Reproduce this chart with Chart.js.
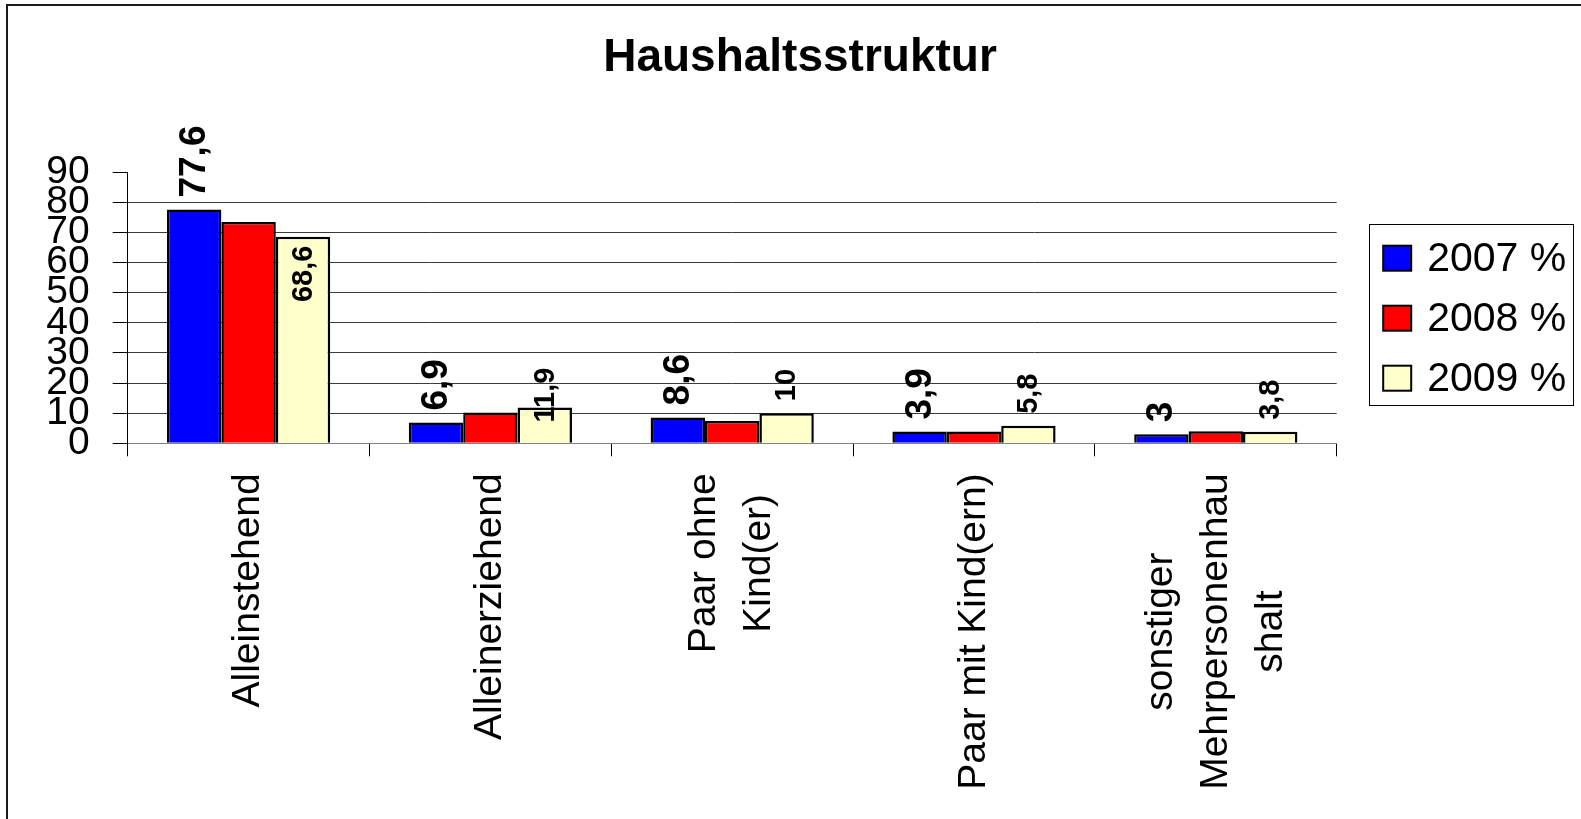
<!DOCTYPE html>
<html>
<head>
<meta charset="utf-8">
<title>Haushaltsstruktur</title>
<script src="https://cdn.jsdelivr.net/npm/chart.js@4.4.1/dist/chart.umd.min.js"></script>
<style>
  html, body { margin: 0; padding: 0; background: #fff; overflow: hidden; }
  #frame { position: absolute; left: 6px; top: 4px; width: 1700px; height: 900px;
           border-top: 2px solid #1a1a1a; border-left: 2px solid #1a1a1a; }
  #chart_Haushalt { position: absolute; left: 0; top: 0; }
</style>
</head>
<body>
<div id="frame"></div>
<canvas id="chart_Haushalt" width="1581" height="819"></canvas>
<script>
// data
var categories = [
  ["Alleinstehend"],
  ["Alleinerziehend"],
  ["Paar ohne", "Kind(er)"],
  ["Paar mit Kind(ern)"],
  ["sonstiger", "Mehrpersonenhau", "shalt"]
];
var seriesNames = ["2007 %", "2008 %", "2009 %"];
var values2007 = [77.6, 6.9, 8.6, 3.9, 3];
var values2008 = [73.5, 10.2, 7.4, 3.9, 4.0];
var values2009 = [68.6, 11.9, 10, 5.8, 3.8];
var yTicks = [0, 10, 20, 30, 40, 50, 60, 70, 80, 90];

var fontFamily = '"Liberation Sans", Arial, sans-serif';

function fmt(v) {
  return String(v).replace('.', ',');
}

// value labels, rotated like in the excel chart
var labelPlugin = {
  id: 'valueLabels',
  afterDatasetsDraw: function (chart) {
    var ctx = chart.ctx;
    var settings = [
      { ds: 0, size: 37 },
      { ds: 2, size: 29 }
    ];
    settings.forEach(function (s) {
      var meta = chart.getDatasetMeta(s.ds);
      var data = chart.data.datasets[s.ds].data;
      meta.data.forEach(function (bar, i) {
        var text = fmt(data[i]);
        ctx.save();
        ctx.font = 'bold ' + s.size + 'px ' + fontFamily;
        ctx.fillStyle = '#000';
        ctx.textBaseline = 'alphabetic';
        var y = bar.y - 12;
        var align = 'left';
        // the 2009 labels that excel moved
        if (s.ds === 2 && i === 0) { y = bar.y + 9; align = 'right'; }
        if (s.ds === 2 && i === 1) { y = bar.y + 15; }
        ctx.translate(bar.x, y);
        ctx.rotate(-Math.PI / 2);
        ctx.textAlign = align;
        ctx.fillText(text, 0, s.size * 0.3);
        ctx.restore();
      });
    });
  }
};

// category names, rotated, every line centred
var xLabelPlugin = {
  id: 'xLabels',
  afterDraw: function (chart) {
    var ctx = chart.ctx;
    var xs = chart.scales.x;
    var size = 39;
    var lineH = 55;
    var top = chart.chartArea.bottom + 30;
    ctx.save();
    ctx.font = size + 'px ' + fontFamily;
    ctx.fillStyle = '#000';
    ctx.textAlign = 'center';
    ctx.textBaseline = 'middle';
    categories.forEach(function (lines, i) {
      var cx = xs.getPixelForValue(i);
      var maxW = 0;
      lines.forEach(function (l) { maxW = Math.max(maxW, ctx.measureText(l).width); });
      lines.forEach(function (l, j) {
        var lx = cx + (j - (lines.length - 1) / 2) * lineH;
        ctx.save();
        ctx.translate(lx, top + maxW / 2);
        ctx.rotate(-Math.PI / 2);
        ctx.fillText(l, 0, 0);
        ctx.restore();
      });
    });
    ctx.restore();
  }
};

// legend with a box round it, right of the plot
var legendPlugin = {
  id: 'boxLegend',
  afterDraw: function (chart) {
    var ctx = chart.ctx;
    var area = chart.chartArea;
    var left = area.right + 32.5;
    var top = area.top + 52;
    var w = 204;
    var h = 181;
    ctx.save();
    ctx.strokeStyle = '#000';
    ctx.lineWidth = 1;
    ctx.strokeRect(Math.round(left) + 0.5, Math.round(top) + 0.5, w, h);
    ctx.font = '41px ' + fontFamily;
    ctx.textBaseline = 'middle';
    ctx.textAlign = 'left';
    chart.data.datasets.forEach(function (ds, i) {
      var cy = top + 34 + i * 60;
      ctx.fillStyle = ds.backgroundColor;
      ctx.fillRect(left + 14, cy - 12.5, 28, 25);
      ctx.lineWidth = 2;
      ctx.strokeStyle = '#000';
      ctx.strokeRect(left + 14, cy - 12.5, 28, 25);
      ctx.fillStyle = '#000';
      ctx.fillText(ds.label, left + 58, cy + 1);
    });
    ctx.restore();
  }
};

new Chart(document.getElementById("chart_Haushalt"), {
  type: 'bar',
  data: {
    labels: categories,
    datasets: [{
      label: seriesNames[0],
      backgroundColor: "#0000ff",
      data: values2007
    }, {
      label: seriesNames[1],
      backgroundColor: "#ff0000",
      data: values2008
    }, {
      label: seriesNames[2],
      backgroundColor: "#ffffcc",
      data: values2009
    }]
  },
  options: {
    responsive: false,
    animation: false,
    devicePixelRatio: 1,
    datasets: {
      bar: {
        borderColor: '#000',
        borderWidth: 2.5,
        categoryPercentage: 0.675,
        barPercentage: 1
      }
    },
    layout: { padding: { left: 27, right: 8, top: 0, bottom: 0 } },
    plugins: {
      legend: { display: false },
      tooltip: { enabled: false },
      title: {
        display: true,
        text: 'Haushaltsstruktur',
        color: '#000',
        font: { family: fontFamily, size: 46, weight: 'bold', lineHeight: 1.2 },
        padding: { top: 31, bottom: 86 }
      }
    },
    scales: {
      x: {
        grid: {
          offset: true,
          drawOnChartArea: false,
          drawTicks: true,
          tickLength: 13,
          color: '#000'
        },
        border: { color: '#808080', width: 1 },
        ticks: { display: false },
        afterFit: function (s) { s.height = 819 - 443.3; }
      },
      y: {
        min: 0,
        max: 90,
        afterBuildTicks: function (s) {
          s.ticks = yTicks.map(function (v) { return { value: v }; });
        },
        afterFit: function (s) { s.width = 100.7; },
        grid: {
          color: function (c) { return c.tick && c.tick.value === 90 ? 'rgba(0,0,0,0)' : '#3a3a3a'; },
          tickColor: '#000',
          tickLength: 15,
          lineWidth: 1
        },
        border: { color: '#000', width: 1 },
        ticks: {
          autoSkip: false,
          color: '#000',
          padding: 23,
          font: { family: fontFamily, size: 39, lineHeight: 1 }
        }
      },
      yRight: {
        type: 'linear',
        position: 'right',
        display: true,
        grid: { display: false, drawTicks: false },
        border: { display: false },
        ticks: { display: false },
        afterFit: function (s) { s.width = 1581 - 8 - 1336.7; }
      }
    }
  },
  plugins: [labelPlugin, xLabelPlugin, legendPlugin]
});
</script>
</body>
</html>
